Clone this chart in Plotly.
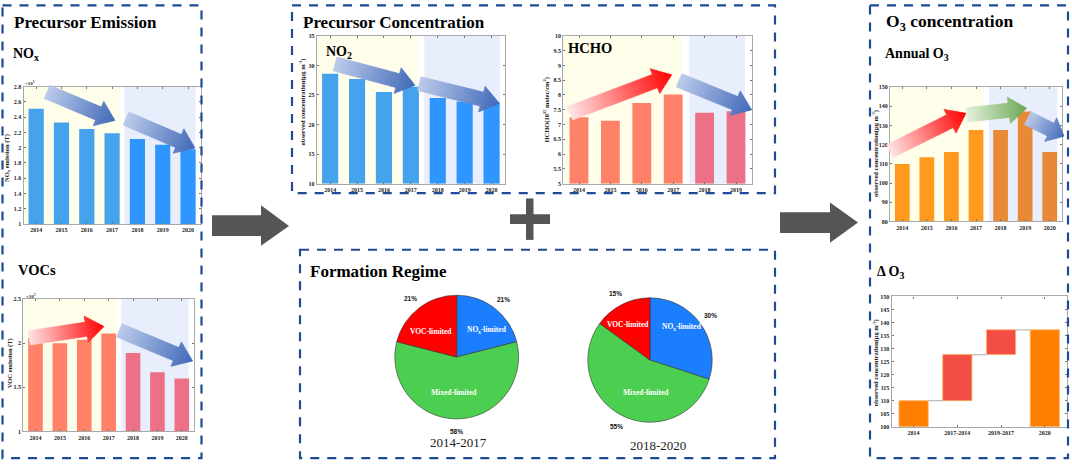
import plotly.graph_objects as go

W, H = 1072, 464

# ---- data ----
years = ["2014", "2015", "2016", "2017", "2018", "2019", "2020"]
hcho_years = years[:6]
nox_values = [2.51, 2.33, 2.245, 2.19, 2.115, 2.04, 1.98]
voc_values = [2.06, 2.00, 2.04, 2.11, 1.89, 1.67, 1.60]
no2_values = [28.6, 27.7, 25.5, 26.4, 24.5, 23.9, 23.8]
hcho_values = [7.25, 7.13, 7.73, 8.02, 7.40, 7.45]
o3_values = [109.9, 113.5, 116.2, 127.7, 127.7, 137.3, 116.2]
delta_labels = ["2014", "2017-2014", "2019-2017", "2020"]
delta_low = [100, 110, 127.7, 100]
delta_high = [110, 127.7, 137.2, 137.2]
regime_labels = ["NOx-limited", "Mixed-limited", "VOC-limited"]
regime_a = [21, 58, 21]
regime_b = [30, 55, 15]

SERIF = "Liberation Serif"
SANS = "Liberation Sans"
BOX = "#1F4A96"
GREY = "#A8A8A8"
BLUE_A, BLUE_B = "#45A2EC", "#3096FF"
RED_A, RED_B = "#FF8268", "#EC7186"
ORG_A, ORG_B = "#FF9A1E", "#E88A35"
YEL_BG, BLUE_BG = "#FEFEEA", "#E8EEFC"


def fx(p):
    return p / W


def fy(p):
    return 1 - p / H


fig = go.Figure()
shapes, notes = [], []


def text(x, y, s, size, color="black", bold=True, family=SERIF, anchor="center", angle=0):
    notes.append(dict(x=fx(x), y=fy(y), xref="paper", yref="paper",
                      text=f"<b>{s}</b>" if bold else s, showarrow=False,
                      xanchor=anchor, yanchor="middle", textangle=angle, borderpad=0,
                      font=dict(family=family, size=size, color=color)))


def rect(x0, y0, x1, y1, color, layer="below"):
    shapes.append(dict(type="rect", xref="paper", yref="paper", x0=fx(x0), x1=fx(x1),
                       y0=fy(y0), y1=fy(y1), fillcolor=color, line=dict(width=0), layer=layer))


def dashed_box(x0, y0, x1, y1):
    shapes.append(dict(type="rect", xref="paper", yref="paper", x0=fx(x0), x1=fx(x1),
                       y0=fy(y0), y1=fy(y1), fillcolor="rgba(0,0,0,0)", layer="above",
                       line=dict(color=BOX, width=2.2, dash="9px,8px")))


def polygon(points, color, lw=0.6):
    path = "M" + " L".join(f"{fx(a):.5f},{fy(b):.5f}" for a, b in points) + " Z"
    shapes.append(dict(type="path", xref="paper", yref="paper", path=path, fillcolor=color,
                       line=dict(color=color, width=lw), layer="above"))


def mix(c0, c1, t):
    a = [int(c0[i:i + 2], 16) for i in (1, 3, 5)]
    b = [int(c1[i:i + 2], 16) for i in (1, 3, 5)]
    return "#" + "".join(f"{round(p + (q - p) * t):02x}" for p, q in zip(a, b))


def arrow(x0, y0, x1, y1, c0, c1, shaft=14.5, head=27, head_len=18, steps=26):
    dx, dy = x1 - x0, y1 - y0
    length = (dx * dx + dy * dy) ** 0.5
    ux, uy = dx / length, dy / length
    nx, ny = -uy, ux

    def half(s):
        return head / 2 * (length - s) / head_len if s >= length - head_len else shaft / 2

    cuts = [length * i / steps for i in range(steps + 1)]
    cuts = sorted(set(cuts + [length - head_len, length - head_len + 0.001]))
    for s0, s1 in zip(cuts[:-1], cuts[1:]):
        h0 = shaft / 2 if s0 < length - head_len else head / 2 * (length - s0) / head_len
        h1 = half(s1) if s1 > length - head_len else shaft / 2
        if s1 - s0 < 0.01:
            continue
        col = mix(c0, c1, (s0 + s1) / 2 / length)
        polygon([(x0 + ux * s0 + nx * h0, y0 + uy * s0 + ny * h0),
                 (x0 + ux * s1 + nx * h1, y0 + uy * s1 + ny * h1),
                 (x0 + ux * s1 - nx * h1, y0 + uy * s1 - ny * h1),
                 (x0 + ux * s0 - nx * h0, y0 + uy * s0 - ny * h0)], col)


axis_count = 0


def add_axes(left, right, top, bottom, yrange, dtick, ticksize=6, linew=1):
    global axis_count
    axis_count += 1
    n = "" if axis_count == 1 else str(axis_count)
    common = dict(showline=True, linecolor=GREY, linewidth=linew, mirror="ticks", showgrid=False,
                  zeroline=False, ticks="inside", ticklen=2, tickwidth=0.6, tickcolor="#777",
                  tickfont=dict(family=SERIF, size=ticksize, color="#222", weight="bold"))
    fig.layout["xaxis" + n] = dict(domain=[fx(left), fx(right)], anchor="y" + n, type="category", **common)
    fig.layout["yaxis" + n] = dict(domain=[fy(bottom), fy(top)], anchor="x" + n, range=yrange,
                                   dtick=dtick, tick0=yrange[0], **common)
    return "x" + n, "y" + n


def bar_chart(left, right, top, bottom, cats, values, colors, width, yrange, dtick, yel, blu):
    xa, ya = add_axes(left, right, top, bottom, yrange, dtick)
    rect(yel[0], top, yel[1], bottom, YEL_BG)
    rect(blu[0], top, blu[1], bottom, BLUE_BG)
    fig.add_trace(go.Bar(x=cats, y=[v - yrange[0] for v in values], base=yrange[0], width=width,
                         marker=dict(color=colors, line=dict(width=0)), xaxis=xa, yaxis=ya,
                         showlegend=False))


bar_chart(23.5, 200.7, 84.7, 224, years, nox_values, [BLUE_A] * 4 + [BLUE_B] * 3, 0.6, [1, 2.8], 0.2,
          (23.5, 120), (124.7, 195.3))
bar_chart(23.3, 194, 300, 434, years, voc_values, [RED_A] * 4 + [RED_B] * 3, 0.6, [1, 2.5], 0.5,
          (23.3, 117), (121.3, 188.7))
bar_chart(316.7, 505, 33.3, 183, years, no2_values, [BLUE_A] * 4 + [BLUE_B] * 3, 0.6, [10, 35], 5,
          (316.7, 418.3), (424.3, 500))
bar_chart(563.3, 751.7, 33.3, 183, hcho_years, hcho_values, [RED_A] * 4 + [RED_B] * 2, 0.6, [5, 10], 0.5,
          (563.3, 681.7), (689.3, 745))
bar_chart(890, 1062, 85.3, 221.3, years, o3_values, [ORG_A] * 4 + [ORG_B] * 3, 0.6, [80, 150], 10,
          (890, 983.3), (989, 1057.3))

# Delta O3 floating bars
xa, ya = add_axes(891.7, 1066.7, 297.3, 429.3, [100, 150], 5, linew=1.4)
fig.add_trace(go.Bar(x=delta_labels, y=[h - l for h, l in zip(delta_high, delta_low)], base=delta_low,
                     width=0.667, xaxis=xa, yaxis=ya, showlegend=False,
                     marker=dict(color=["#FF8000", "#F44D45", "#F44D45", "#FF8000"],
                                 line=dict(color="#FFB060", width=0.8))))
for i in range(3):
    level = delta_high[i]
    shapes.append(dict(type="line", xref=xa, yref=ya, x0=i + 0.333, x1=i + 0.667, y0=level, y1=level,
                       line=dict(color="#BDBDBD", width=1.3), layer="below"))

# y axis titles
OBS = "observed concentration(μg m<sup>-3</sup>)"
for x, y, s in ((7, 157, "NO<sub>x</sub> emission (T)"), (10, 365, "VOC emission (T)"), (302.7, 100, OBS),
                (547, 108, "HCHO(10<sup>15</sup> molec/cm<sup>2</sup>)"), (875, 153, OBS), (876, 365, OBS)):
    text(x, y, s, 6.5, "#222", angle=-90)

# pies
pie_colors = ["#1A7EFF", "#4CCF50", "#FF0000"]
for vals, cx, cy, r in ((regime_a, 456.7, 358.7, 62.7), (regime_b, 650, 361.7, 63)):
    fig.add_trace(go.Pie(labels=regime_labels, values=vals, sort=False, direction="clockwise", rotation=0,
                         textinfo="none", showlegend=False, hoverinfo="label+percent",
                         marker=dict(colors=pie_colors, line=dict(color="#333", width=0.6)),
                         domain=dict(x=[fx(cx - r), fx(cx + r)], y=[fy(cy + r), fy(cy - r)])))

white = "white"
for x, y, s in ((430.7, 332.3, "VOC-limited"), (486.7, 331, "NO<sub>x</sub>-limited"),
                (454, 394.3, "Mixed-limited"), (628.3, 326, "VOC-limited"),
                (681.7, 328.3, "NO<sub>x</sub>-limited"), (645.7, 394.3, "Mixed-limited")):
    text(x, y, s, 7.5, white)
for x, y, s in ((410, 299.3, "21%"), (503.3, 300, "21%"), (456.7, 434.3, "58%"),
                (615.7, 294.3, "15%"), (710.7, 316.7, "30%"), (616.7, 429.3, "55%")):
    text(x, y, s, 6.5, "#111", family=SANS)
text(458, 445.7, "2014-2017", 13, "#222", bold=False)
text(658.3, 448, "2018-2020", 13, "#222", bold=False)

# headings
text(13, 20, "Precursor Emission", 17, anchor="left")
text(12, 52, "NO<sub>x</sub>", 14, anchor="left")
text(17, 271, "VOCs", 14.5, anchor="left")
text(302, 20, "Precursor Concentration", 17, anchor="left")
text(325, 50, "NO<sub>2</sub>", 14, anchor="left")
text(567, 46, "HCHO", 14.5, anchor="left")
text(309, 272, "Formation Regime", 17, anchor="left")
text(884.5, 20, "O<sub>3</sub> concentration", 17.5, anchor="left")
text(884, 52, "Annual O<sub>3</sub>", 14, anchor="left")
text(876, 273, "Δ O<sub>3</sub>", 14, anchor="left")
text(24, 81.5, "×10<sup>5</sup>", 5, "#222", anchor="left")
text(25, 297, "×10<sup>5</sup>", 5, "#222", anchor="left")

# trend arrows
B0, B1 = "#BCCBEA", "#3F68B8"
R0, R1 = "#FFE4E4", "#FF0000"
G0, G1 = "#E4F0DE", "#6AA84F"
arrow(47, 90, 115, 119, B0, B1)
arrow(126, 117, 195, 147, B0, B1)
arrow(29.3, 339.3, 104, 327.7, R0, R1)
arrow(119.3, 331.7, 192.7, 362.7, B0, B1)
arrow(335, 61.7, 415, 83.3, B0, B1)
arrow(419.3, 81.7, 499.3, 101.7, B0, B1)
arrow(570, 111.7, 671.7, 72.7, R0, R1)
arrow(679, 78.3, 751.7, 108.3, B0, B1)
arrow(890, 150, 966, 111.7, R0, R1)
arrow(966.7, 113.3, 1026.7, 106.7, G0, G1)
arrow(1027.7, 116.7, 1064, 135, B0, B1, head_len=15)

# flow symbols
DARK = "#555555"
polygon([(212, 215), (261, 215), (261, 205), (289, 226), (261, 246), (261, 236), (212, 236)], DARK, 0)
polygon([(780, 212), (830, 212), (830, 202), (858, 222.5), (830, 243), (830, 233), (780, 233)], DARK, 0)
rect(526, 198, 533.5, 240, DARK, "above")
rect(510, 214, 550, 224, DARK, "above")

# panel frames
dashed_box(2.5, 2.5, 201.5, 461)
dashed_box(292, 2.5, 775, 192.7)
dashed_box(300, 250, 775, 461)
dashed_box(870, 2.5, 1068, 461)

fig.update_layout(width=W, height=H, margin=dict(l=0, r=0, t=0, b=0), autosize=False,
                  paper_bgcolor="white", plot_bgcolor="white", shapes=shapes, annotations=notes,
                  barmode="overlay", font=dict(family=SERIF))
fig.write_html("out.html", config={"displayModeBar": False},
               post_script="document.body.style.margin='0';document.body.style.overflow='hidden';")
